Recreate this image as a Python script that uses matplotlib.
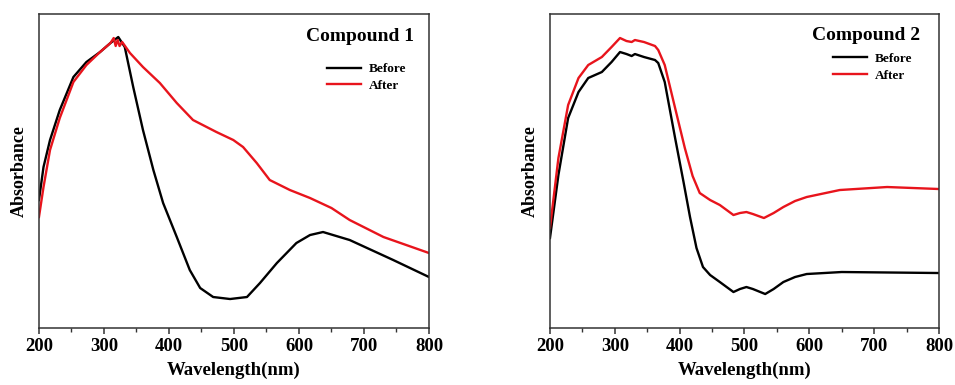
import matplotlib
matplotlib.use("Agg")
import matplotlib.pyplot as plt
from matplotlib.ticker import MultipleLocator

plt.rcParams['font.family'] = ['Liberation Serif', 'DejaVu Serif']
plt.rcParams['font.weight'] = 'bold'

# Compound 1
c1_before_nm = [200, 207, 217, 232, 253, 273, 294, 310, 322, 332, 345, 360, 376, 391, 412, 432,
                448, 468, 494, 520, 540, 566, 596, 617, 637, 678, 745, 800]
c1_before_abs = [1.28, 1.61, 1.88, 2.18, 2.51, 2.66, 2.76, 2.85, 2.91, 2.81, 2.41, 1.98, 1.58,
                 1.25, 0.91, 0.58, 0.40, 0.31, 0.29, 0.31, 0.45, 0.65, 0.85, 0.93, 0.96, 0.88,
                 0.68, 0.51]
c1_after_nm = [200, 207, 217, 232, 253, 273, 294, 310, 315, 318, 321, 324, 328, 340, 360, 386,
               412, 437, 473, 499, 514, 535, 555, 586, 617, 650, 678, 730, 800]
c1_after_abs = [1.11, 1.41, 1.78, 2.10, 2.46, 2.63, 2.76, 2.85, 2.90, 2.82, 2.88, 2.82, 2.86,
                2.75, 2.61, 2.45, 2.25, 2.08, 1.96, 1.88, 1.81, 1.65, 1.48, 1.38, 1.30, 1.20,
                1.08, 0.91, 0.75]

# Compound 2
c2_before_nm = [200, 213, 228, 244, 259, 280, 295, 308, 318, 326, 331, 345, 362, 367, 377, 393,
                406, 416, 426, 436, 447, 462, 483, 493, 503, 513, 532, 545, 560, 578, 596, 650,
                800]
c2_before_abs = [0.90, 1.53, 2.10, 2.36, 2.50, 2.56, 2.66, 2.76, 2.74, 2.72, 2.74, 2.71, 2.68,
                 2.65, 2.46, 1.90, 1.46, 1.11, 0.80, 0.61, 0.53, 0.46, 0.36, 0.39, 0.41, 0.39,
                 0.34, 0.39, 0.46, 0.51, 0.54, 0.56, 0.55]
c2_after_nm = [200, 213, 228, 244, 259, 280, 295, 308, 318, 326, 331, 345, 362, 367, 377, 393,
               408, 420, 431, 447, 462, 483, 493, 503, 513, 530, 545, 560, 578, 596, 647, 720,
               800]
c2_after_abs = [1.00, 1.70, 2.23, 2.50, 2.63, 2.71, 2.81, 2.90, 2.87, 2.86, 2.88, 2.86, 2.82,
                2.78, 2.63, 2.20, 1.80, 1.52, 1.35, 1.28, 1.23, 1.13, 1.15, 1.16, 1.14, 1.10,
                1.15, 1.21, 1.27, 1.31, 1.38, 1.41, 1.39]

titles = ["Compound 1", "Compound 2"]
labels = ["Before", "After"]
xticks = [200, 300, 400, 500, 600, 700, 800]

fig = plt.figure(figsize=(9.55, 3.85), dpi=100)
ax1 = fig.add_axes([0.0408, 0.148, 0.4084, 0.8156])
ax2 = fig.add_axes([0.5759, 0.148, 0.4073, 0.8156])

panels = [
    (ax1, c1_before_nm, c1_before_abs, c1_after_nm, c1_after_abs, (0.962, 0.927), (0.738, 0.798)),
    (ax2, c2_before_nm, c2_before_abs, c2_after_nm, c2_after_abs, (0.951, 0.933), (0.727, 0.830)),
]

for i, (ax, bx, by, axx, ay, tpos, lpos) in enumerate(panels):
    ax.plot(bx, by, color='black', lw=1.7, label=labels[0], solid_joinstyle='round')
    ax.plot(axx, ay, color='#e8141c', lw=1.7, label=labels[1], solid_joinstyle='round')
    ax.set_xlim(200, 800)
    ax.set_ylim(0, 3.14)
    ax.set_xticks(xticks)
    ax.xaxis.set_minor_locator(MultipleLocator(50))
    ax.set_yticks([])
    ax.tick_params(axis='x', which='major', direction='out', length=4, width=1.1,
                   labelsize=13.5, pad=3, colors='#333333', labelcolor='black')
    ax.tick_params(axis='x', which='minor', direction='out', length=3, width=1.0, colors='#333333')
    for lab in ax.get_xticklabels():
        lab.set_fontweight('bold')
    for s in ax.spines.values():
        s.set_linewidth(1.1)
        s.set_color('#333333')
    ax.set_xlabel("Wavelength(nm)", fontsize=13.5, fontweight='bold', labelpad=5)
    ax.set_ylabel("Absorbance", fontsize=13, fontweight='bold', labelpad=8)
    ax.text(tpos[0], tpos[1], titles[i], transform=ax.transAxes, ha='right', va='center',
            fontsize=14, fontweight='bold')
    leg = ax.legend(loc='center left', bbox_to_anchor=lpos, frameon=False, borderaxespad=0,
                    borderpad=0, handlelength=2.6, handletextpad=0.6, labelspacing=0.35,
                    prop={'size': 9.5, 'weight': 'bold'})

fig.savefig("out.png", dpi=100)
